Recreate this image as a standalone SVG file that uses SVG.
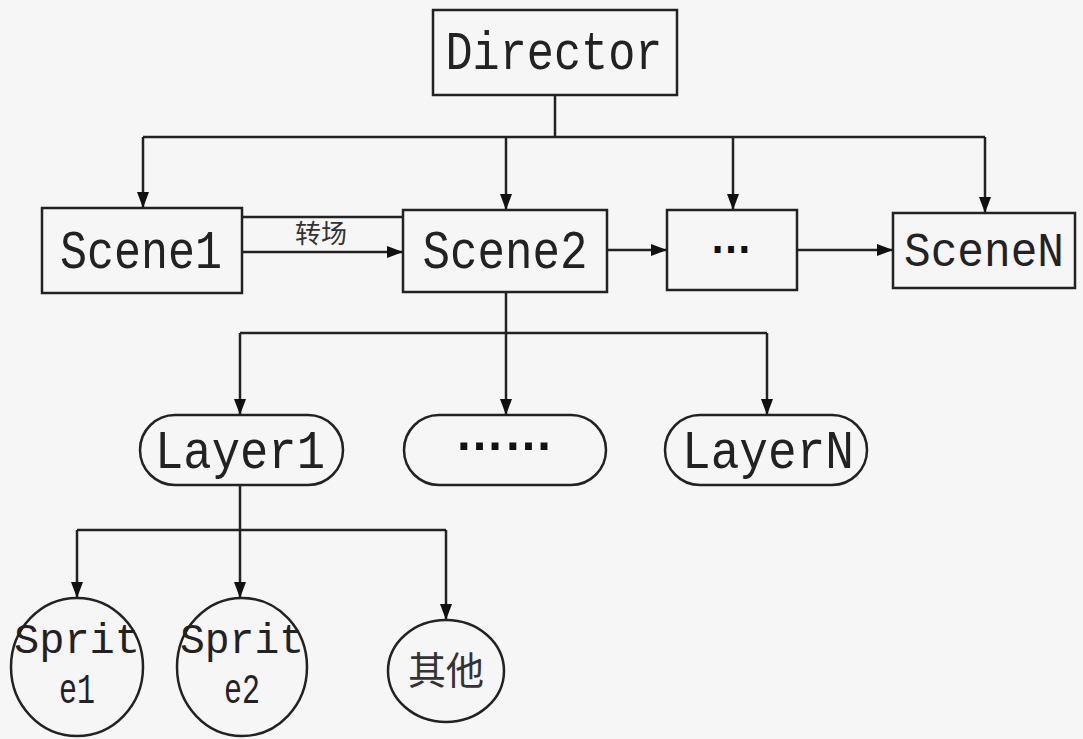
<svg xmlns="http://www.w3.org/2000/svg" width="1083" height="739" viewBox="0 0 1083 739">
<style>
.box{fill:none;stroke:#222;stroke-width:2.5}
.ln{fill:none;stroke:#222;stroke-width:2.5}
.t{font-family:"Liberation Mono","DejaVu Sans Mono",monospace;fill:#222;text-anchor:middle}
.big{font-size:54px}
.mid{font-size:42px}
.dots{font-family:"Liberation Sans",sans-serif;fill:#111;text-anchor:middle;font-weight:bold}
.cjk{font-family:"Noto Sans CJK SC",sans-serif;fill:#333;text-anchor:middle}
</style>
<defs>
<marker id="ah" viewBox="0 0 16 12" refX="16" refY="6" markerWidth="16" markerHeight="12" markerUnits="userSpaceOnUse" orient="auto">
<path d="M0,0 L16,6 L0,12 Z" fill="#111"/>
</marker>
</defs>
<rect width="1083" height="739" fill="#f6f6f6"/>
<g id="connectors">
<path class="ln" d="M555,95 V137"/>
<path class="ln" d="M143,137 H985"/>
<path class="ln" d="M143,137 V208" marker-end="url(#ah)"/>
<path class="ln" d="M506,137 V210" marker-end="url(#ah)"/>
<path class="ln" d="M733,137 V210" marker-end="url(#ah)"/>
<path class="ln" d="M985,137 V213" marker-end="url(#ah)"/>
<path class="ln" d="M242,217 H403"/>
<path class="ln" d="M242,252 H403" marker-end="url(#ah)"/>
<path class="ln" d="M607,250 H667" marker-end="url(#ah)"/>
<path class="ln" d="M797,250 H893" marker-end="url(#ah)"/>
<path class="ln" d="M506,292 V415" marker-end="url(#ah)"/>
<path class="ln" d="M240,333 H767"/>
<path class="ln" d="M240,333 V415" marker-end="url(#ah)"/>
<path class="ln" d="M767,333 V415" marker-end="url(#ah)"/>
<path class="ln" d="M240,485 V598" marker-end="url(#ah)"/>
<path class="ln" d="M77,530 H446"/>
<path class="ln" d="M77,530 V598" marker-end="url(#ah)"/>
<path class="ln" d="M446,530 V620" marker-end="url(#ah)"/>
<text class="cjk" x="321" y="243" font-size="26">转场</text>
</g>
<g id="director"><rect class="box" x="433" y="10" width="244" height="85"/><text class="t big" x="554" y="69" textLength="217" lengthAdjust="spacingAndGlyphs">Director</text></g>
<g id="scene1"><rect class="box" x="42" y="208" width="200" height="85"/><text class="t big" x="141" y="268" textLength="162" lengthAdjust="spacingAndGlyphs">Scene1</text></g>
<g id="scene2"><rect class="box" x="403" y="210" width="204" height="82"/><text class="t big" x="505" y="268" textLength="165" lengthAdjust="spacingAndGlyphs">Scene2</text></g>
<g id="sceneDots"><rect class="box" x="667" y="210" width="130" height="80"/><text class="dots" x="731" y="253" font-size="46" textLength="42" lengthAdjust="spacingAndGlyphs">…</text></g>
<g id="sceneN"><rect class="box" x="893" y="213" width="182" height="75"/><text class="t" font-size="48" x="984" y="266" textLength="160" lengthAdjust="spacingAndGlyphs">SceneN</text></g>
<g id="layer1"><rect class="box" x="140" y="415" width="203" height="70" rx="35"/><text class="t big" x="240" y="468" textLength="170" lengthAdjust="spacingAndGlyphs">Layer1</text></g>
<g id="layerDots"><rect class="box" x="404" y="415" width="202" height="70" rx="35"/><text class="dots" x="504" y="450" font-size="50" textLength="98" lengthAdjust="spacingAndGlyphs">……</text></g>
<g id="layerN"><rect class="box" x="665" y="415" width="202" height="70" rx="35"/><text class="t big" x="768" y="468" textLength="172" lengthAdjust="spacingAndGlyphs">LayerN</text></g>
<g id="sprite1"><ellipse class="box" cx="77" cy="667" rx="66" ry="69"/><text class="t mid" x="77" y="653" textLength="126" lengthAdjust="spacingAndGlyphs">Sprit</text><text class="t mid" x="77" y="703" textLength="36" lengthAdjust="spacingAndGlyphs">e1</text></g>
<g id="sprite2"><ellipse class="box" cx="242" cy="667" rx="65" ry="69"/><text class="t mid" x="242" y="653" textLength="124" lengthAdjust="spacingAndGlyphs">Sprit</text><text class="t mid" x="242" y="703" textLength="36" lengthAdjust="spacingAndGlyphs">e2</text></g>
<g id="other"><ellipse class="box" cx="446" cy="671" rx="58" ry="51"/><text class="cjk" x="446" y="684" font-size="38">其他</text></g>
</svg>
